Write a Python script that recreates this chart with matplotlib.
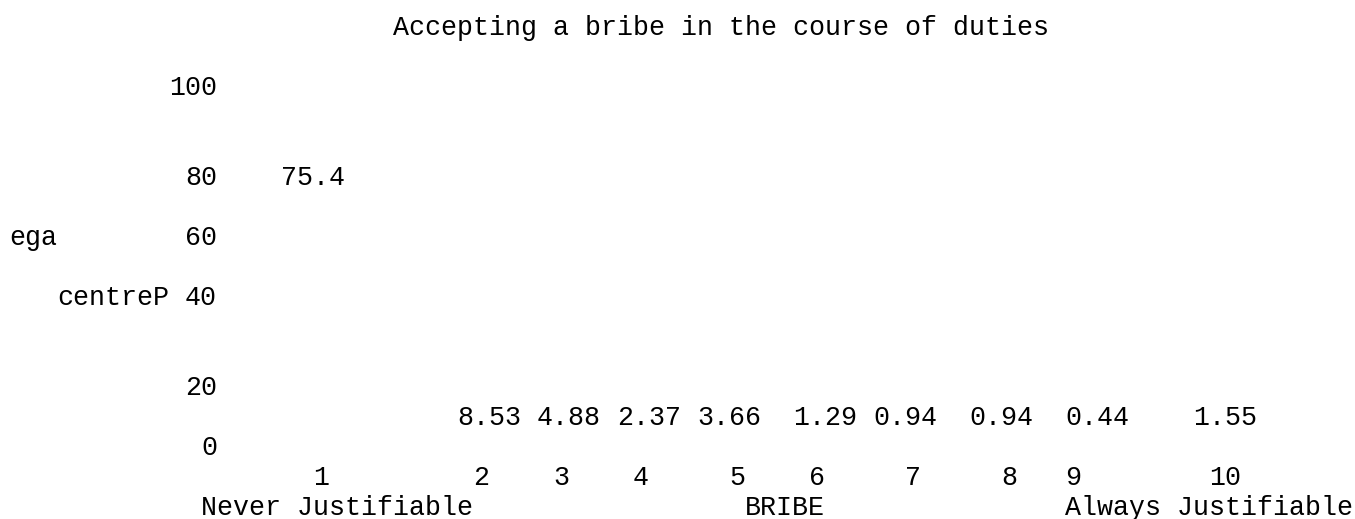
import numpy as np
import matplotlib.pyplot as plt

# Data: share of answers per point of the 1-10 scale
categories = ['1', '2', '3', '4', '5', '6', '7', '8', '9', '10']
percents = [75.4, 8.53, 4.88, 2.37, 3.66, 1.29, 0.94, 0.94, 0.44, 1.55]
y_ticks = [0, 20, 40, 60, 80, 100]
title = 'Accepting a bribe in the course of duties'
x_labels = ['Never Justifiable', 'BRIBE', 'Always Justifiable']
y_label_parts = ['ega', 'centreP']

# Layout on the text grid (columns of 16 px, rows of 30 px)
CW, RH = 16.0, 30.0
X0, Y0 = 9.0, 27.0
tick_rows = [14, 12, 9, 7, 5, 2]
cat_cols = [19.5, 29.5, 34.5, 39.5, 45.5, 50.5, 56.5, 62.5, 66.5, 76.0]
label_cols = [17, 28, 33, 38, 43, 49, 54, 60, 66, 74]
x_label_cols = [12, 46, 66]
y_label_pos = [(0, 7), (3, 9)]
BASE = 0.28  # baseline offset from row centre, in rows

W, H = 1355, 519
fig = plt.figure(figsize=(W / 100, H / 100), dpi=100)
ax = fig.add_axes([0, 0, 1, 1])
ax.set_xlim(-X0 / CW, (W - X0) / CW)
ax.set_ylim((H - Y0) / RH, -Y0 / RH)
ax.axis('off')

font = dict(family='Liberation Mono', fontsize=CW / 0.6 * 0.72, color='black')

ax.text(24, 0 + BASE, title, ha='left', va='baseline', **font)

# y axis tick labels, right aligned at column 13
for v, r in zip(y_ticks, tick_rows):
    ax.text(13, r + BASE, str(v), ha='right', va='baseline', **font)

for s, (c, r) in zip(y_label_parts, y_label_pos):
    ax.text(c, r + BASE, s, ha='left', va='baseline', **font)

# value labels sit on the row just above each bar top
bar_tops = np.interp(percents, y_ticks, tick_rows)
for v, c, top in zip(percents, label_cols, bar_tops):
    ax.text(c, np.floor(top) + BASE, f'{v:.3g}', ha='left', va='baseline', **font)

for cat, c in zip(categories, cat_cols):
    ax.text(c, 15 + BASE, cat, ha='center', va='baseline', **font)

for s, c in zip(x_labels, x_label_cols):
    ax.text(c, 16 + BASE, s, ha='left', va='baseline', **font)

fig.savefig('out.png', dpi=100, facecolor='white')
